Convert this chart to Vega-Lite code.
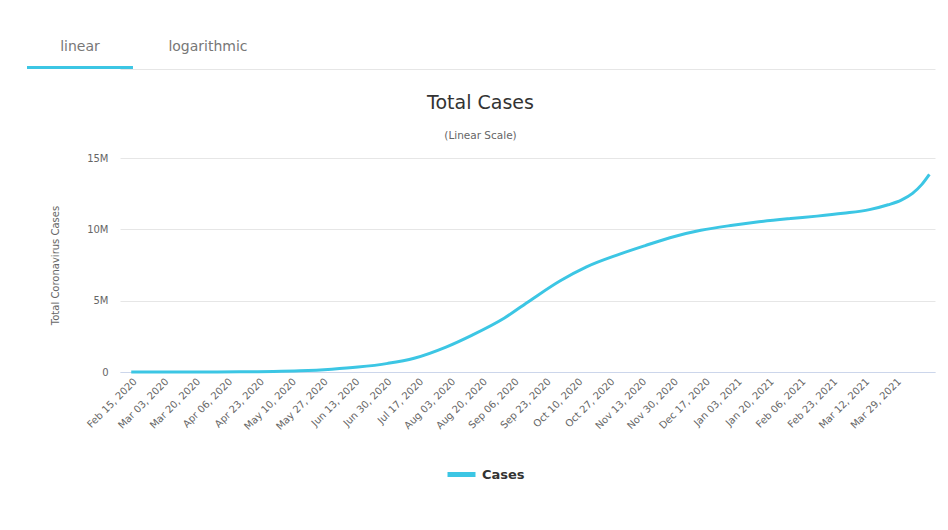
{
  "$schema": "https://vega.github.io/schema/vega-lite/v6.json",
  "padding": {"left": 27, "top": 39, "right": 10, "bottom": 10},
  "background": "white",
  "spacing": 89,
  "bounds": "flush",
  "config": {
    "font": "DejaVu Sans",
    "view": {"stroke": null},
    "axis": {"labelColor": "#666666", "titleColor": "#666666", "labelFont": "DejaVu Sans", "titleFont": "DejaVu Sans"}
  },
  "vconcat": [
    {
      "width": 815,
      "height": 3,
      "data": {"values": [{"tab": "linear"}, {"tab": "logarithmic"}]},
      "encoding": {
        "x": {
          "field": "tab",
          "type": "nominal",
          "scale": {"domain": ["linear", "logarithmic", " ", "  ", "   "], "paddingInner": 0.172, "paddingOuter": 0.77, "align": 0},
          "axis": {"labels": false, "ticks": false, "title": null, "domain": true, "domainColor": "#e6e6e6", "grid": false}
        }
      },
      "layer": [
        {"mark": {"type": "text", "dx": -93, "dy": -21, "fontSize": 14, "color": "#777777"}, "encoding": {"text": {"field": "tab"}}},
        {"transform": [{"filter": "datum.tab === 'linear'"}], "mark": {"type": "bar", "color": "#3cc6e4", "xOffset": -93}}
      ]
    },
    {
      "width": 815,
      "height": 214,
      "title": {"text": "Total Cases", "subtitle": "(Linear Scale)", "fontSize": 19, "fontWeight": "normal", "color": "#333333", "subtitleColor": "#666666", "subtitleFontSize": 10.5, "subtitlePadding": 18, "offset": 12, "anchor": "middle", "dx": -47},
      "data": {"values": [
        {"date": "2020-02-15", "cases": 3},
        {"date": "2020-03-01", "cases": 3},
        {"date": "2020-03-15", "cases": 110},
        {"date": "2020-04-01", "cases": 2000},
        {"date": "2020-04-15", "cases": 12400},
        {"date": "2020-05-01", "cases": 37300},
        {"date": "2020-05-15", "cases": 85800},
        {"date": "2020-06-01", "cases": 198700},
        {"date": "2020-06-15", "cases": 343000},
        {"date": "2020-07-01", "cases": 605000},
        {"date": "2020-07-15", "cases": 969000},
        {"date": "2020-08-01", "cases": 1751000},
        {"date": "2020-08-15", "cases": 2590000},
        {"date": "2020-09-01", "cases": 3770000},
        {"date": "2020-09-15", "cases": 5020000},
        {"date": "2020-10-01", "cases": 6394000},
        {"date": "2020-10-15", "cases": 7370000},
        {"date": "2020-11-01", "cases": 8229000},
        {"date": "2020-11-15", "cases": 8845000},
        {"date": "2020-12-01", "cases": 9499000},
        {"date": "2020-12-15", "cases": 9932000},
        {"date": "2021-01-01", "cases": 10287000},
        {"date": "2021-01-15", "cases": 10528000},
        {"date": "2021-02-01", "cases": 10758000},
        {"date": "2021-02-15", "cases": 10926000},
        {"date": "2021-03-01", "cases": 11125000},
        {"date": "2021-03-15", "cases": 11380000},
        {"date": "2021-03-25", "cases": 11720000},
        {"date": "2021-04-01", "cases": 12050000},
        {"date": "2021-04-07", "cases": 12520000},
        {"date": "2021-04-12", "cases": 13150000},
        {"date": "2021-04-16", "cases": 13850000}
      ]},
      "mark": {"type": "line", "interpolate": "monotone", "strokeWidth": 3},
      "encoding": {
        "x": {
          "field": "date",
          "type": "temporal",
          "scale": {"type": "utc", "domain": [{"year": 2020, "month": 2, "date": 9, "utc": true}, {"year": 2021, "month": 4, "date": 19, "utc": true}]},
          "axis": {
            "values": [
              {"year": 2020, "month": 2, "date": 15, "utc": true},
              {"year": 2020, "month": 3, "date": 3, "utc": true},
              {"year": 2020, "month": 3, "date": 20, "utc": true},
              {"year": 2020, "month": 4, "date": 6, "utc": true},
              {"year": 2020, "month": 4, "date": 23, "utc": true},
              {"year": 2020, "month": 5, "date": 10, "utc": true},
              {"year": 2020, "month": 5, "date": 27, "utc": true},
              {"year": 2020, "month": 6, "date": 13, "utc": true},
              {"year": 2020, "month": 6, "date": 30, "utc": true},
              {"year": 2020, "month": 7, "date": 17, "utc": true},
              {"year": 2020, "month": 8, "date": 3, "utc": true},
              {"year": 2020, "month": 8, "date": 20, "utc": true},
              {"year": 2020, "month": 9, "date": 6, "utc": true},
              {"year": 2020, "month": 9, "date": 23, "utc": true},
              {"year": 2020, "month": 10, "date": 10, "utc": true},
              {"year": 2020, "month": 10, "date": 27, "utc": true},
              {"year": 2020, "month": 11, "date": 13, "utc": true},
              {"year": 2020, "month": 11, "date": 30, "utc": true},
              {"year": 2020, "month": 12, "date": 17, "utc": true},
              {"year": 2021, "month": 1, "date": 3, "utc": true},
              {"year": 2021, "month": 1, "date": 20, "utc": true},
              {"year": 2021, "month": 2, "date": 6, "utc": true},
              {"year": 2021, "month": 2, "date": 23, "utc": true},
              {"year": 2021, "month": 3, "date": 12, "utc": true},
              {"year": 2021, "month": 3, "date": 29, "utc": true}
            ],
            "labelExpr": "utcFormat(datum.value, '%b %d, %Y')",
            "labelOverlap": false,
            "labelAngle": -45,
            "labelFontSize": 10,
            "title": null,
            "grid": false,
            "ticks": false,
            "domainColor": "#ccd6eb",
            "labelPadding": 4
          }
        },
        "y": {
          "field": "cases",
          "type": "quantitative",
          "scale": {"domain": [0, 15000000]},
          "axis": {"values": [0, 5000000, 10000000, 15000000], "labelExpr": "datum.value === 0 ? '0' : format(datum.value / 1000000, 'd') + 'M'", "title": "Total Coronavirus Cases", "titleFontSize": 10, "titleFontWeight": "normal", "labelFontSize": 10, "gridColor": "#e6e6e6", "domain": false, "ticks": false, "labelPadding": 12, "titlePadding": 26}
        },
        "color": {
          "datum": "Cases",
          "scale": {"range": ["#3cc6e4"]},
          "legend": {"orient": "none", "legendX": 325, "legendY": 392, "padding": 0, "title": null, "symbolType": "stroke", "symbolStrokeWidth": 5, "symbolSize": 784, "labelFontSize": 13, "labelColor": "#333333", "labelFontWeight": "bold"}
        }
      }
    }
  ]
}
